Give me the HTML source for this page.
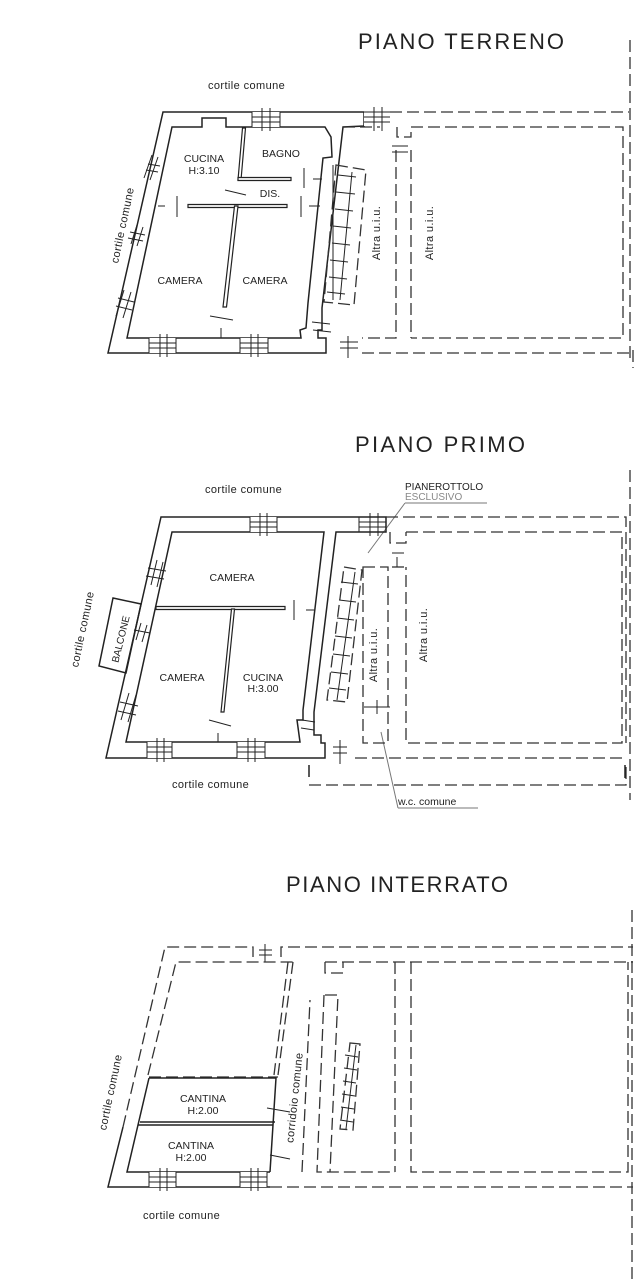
<!DOCTYPE html>
<html><head><meta charset="utf-8"><style>
html,body{margin:0;padding:0;background:#fff;}
svg{display:block;}
text{font-family:"Liberation Sans",sans-serif;fill:#222;}
.w{fill:none;stroke:#222;stroke-width:1.5;}
.t{fill:none;stroke:#222;stroke-width:1;}
.d{fill:none;stroke:#333;stroke-width:1.3;stroke-dasharray:12,5;}
.g{fill:none;stroke:#777;stroke-width:1;}
.iw{fill:#fff;stroke:#222;stroke-width:1.2;}
.lbl{font-size:11px;letter-spacing:0.4px;}
.rm{font-size:10.5px;}
.ttl{font-size:22px;fill:#222;}
</style></head><body>
<svg width="635" height="1280" viewBox="0 0 635 1280" xmlns="http://www.w3.org/2000/svg">
<rect width="635" height="1280" fill="#fff"/>

<!-- ============ PIANO TERRENO ============ -->
<text x="358" y="49" class="ttl" textLength="206">PIANO TERRENO</text>
<text x="208" y="89" class="lbl">cortile comune</text>
<text transform="translate(126,226) rotate(-78)" class="lbl" text-anchor="middle">cortile comune</text>

<path class="w" d="M163,112 L364,112 L364,126 L343,127 L322,308 L322,330 L318,330 L318,338 L326,338 L326,353 L108,353 Z"/>
<path class="w" d="M172,127 L202,127 L202,118 L226,118 L226,127 L325,127 L331,137 L332,157 L323,158 L308,303 L306,328 L300,330 L301,338 L127,338 Z"/>
<rect x="252" y="112" width="28" height="15" fill="#fff"/>
<path class="t" d="M252,112 V127 M280,112 V127 M252,117 H280 M252,122 H280 M262,108 V131 M270,108 V131"/>
<rect x="364" y="110" width="26" height="16" fill="#fff"/>
<path class="t" d="M364,112 H390 M364,117 H390 M364,122 H390 M374,107 V131 M382,107 V131"/>
<rect x="149" y="338" width="27" height="15" fill="#fff"/>
<path class="t" d="M149,338 V353 M176,338 V353 M149,343 H176 M149,348 H176 M160,334 V357 M167,334 V357"/>
<rect x="240" y="338" width="28" height="15" fill="#fff"/>
<path class="t" d="M240,338 V353 M268,338 V353 M240,343 H268 M240,348 H268 M251,334 V357 M258,334 V357"/>
<path class="t" d="M152,155 L144,178 M158,157 L150,180 M148,164 L160,166 M146,170 L158,172 M137,225 L131,244 M143,227 L137,246 M130,232 L145,235 M128,238 L143,241 M124,290 L116,316 M131,292 L123,318 M118,298 L134,302 M116,306 L132,310"/>
<path class="iw" d="M188,204.5 H287 V207.5 H188 Z"/>
<path class="iw" d="M234.5,206 L238,206 L226.5,307 L223,307 Z"/>
<path class="iw" d="M242.5,128 L245.5,128 L241,180 L238,180 Z"/>
<path class="iw" d="M238,177.5 H291 V180.5 H238 Z"/>
<path class="t" d="M313,179 H322 M309,206 H320 M158,206 H165 M304,168 V188 M301,196 V217 M177,196 V217 M225,190 L246,195 M210,316 L233,320 M221,328 V338"/>
<path class="t" d="M312,322 L330,324 M313,330 L331,332"/>
<text x="204" y="162" class="rm" text-anchor="middle">CUCINA</text>
<text x="204" y="174" class="rm" text-anchor="middle">H:3.10</text>
<text x="281" y="157" class="rm" text-anchor="middle">BAGNO</text>
<text x="270" y="197" class="rm" text-anchor="middle">DIS.</text>
<text x="180" y="284" class="rm" text-anchor="middle">CAMERA</text>
<text x="265" y="284" class="rm" text-anchor="middle">CAMERA</text>
<path class="d" d="M336,165 L366,170 L354,305 L324,302 Z" stroke-dasharray="8,4"/>
<path class="t" d="M352,172 L340,300 M338,175 L356,177 M336,192 L355,194 M335,209 L353,211 M333,226 L351,228 M332,243 L350,245 M330,260 L348,262 M329,277 L347,279 M327,292 L345,294 M333,165 V300"/>
<path class="d" d="M390,112 H629"/>
<path class="d" d="M411,127 H623 V338 H411"/>
<path class="d" d="M343,127 H380 M397,127 V137 H411 V127"/>
<path class="d" d="M396,150 V338 H362 M411,150 V338"/>
<path class="d" d="M362,353 H629"/>
<path class="t" d="M392,146 H408 M392,152 H408 M340,342 H358 M340,348 H358 M348,336 V358"/>
<path class="d" d="M630,40 V360 M633,350 V368" stroke-dasharray="10,8"/>
<text transform="translate(380,233) rotate(-90)" class="lbl" text-anchor="middle">Altra u.i.u.</text>
<text transform="translate(433,233) rotate(-90)" class="lbl" text-anchor="middle">Altra u.i.u.</text>

<!-- ============ PIANO PRIMO ============ -->
<text x="355" y="452" class="ttl" textLength="170">PIANO PRIMO</text>
<text x="205" y="493" class="lbl">cortile comune</text>
<text x="172" y="788" class="lbl">cortile comune</text>
<text transform="translate(86,630) rotate(-78)" class="lbl" text-anchor="middle">cortile comune</text>
<text x="405" y="490" style="font-size:10px">PIANEROTTOLO</text>
<text x="405" y="500" style="font-size:10px;fill:#888">ESCLUSIVO</text>
<path class="g" d="M405,503 H487 M405,503 L368,553"/>
<text x="398" y="805" style="font-size:10.5px">w.c. comune</text>
<path class="g" d="M398,808 H478 M398,808 L381,732"/>

<path class="w" d="M161,517 L386,517 L386,532 L336,532 L314,712 L314,735 L321,735 L321,743 L325,743 L325,758 L106,758 Z"/>
<path class="w" d="M172,532 L324,532 L303,710 L303,720 L297,720 L300,742 L126,742 Z"/>
<rect x="250" y="517" width="27" height="15" fill="#fff"/>
<path class="t" d="M250,517 V532 M277,517 V532 M250,522 H277 M250,527 H277 M260,513 V536 M267,513 V536"/>
<path class="t" d="M359,517 V532 M359,522 H386 M359,527 H386 M370,513 V536 M378,513 V536"/>
<rect x="147" y="742" width="25" height="16" fill="#fff"/>
<path class="t" d="M147,742 V758 M172,742 V758 M147,747 H172 M147,752 H172 M157,738 V762 M164,738 V762"/>
<rect x="237" y="742" width="28" height="16" fill="#fff"/>
<path class="t" d="M237,742 V758 M265,742 V758 M237,747 H265 M237,752 H265 M248,738 V762 M255,738 V762"/>
<path class="t" d="M157,560 L151,585 M163,562 L157,587 M148,568 L166,571 M146,576 L164,579 M141,623 L136,640 M147,625 L142,642 M134,630 L150,633 M129,693 L121,720 M136,695 L128,722 M120,702 L138,706 M118,711 L136,715"/>
<path class="w" d="M113,598 L141,604 L126,673 L99,666 Z"/>
<text transform="translate(124,640) rotate(-76)" style="font-size:10px" text-anchor="middle">BALCONE</text>
<path class="iw" d="M156,606.5 H285 V609.5 H156 Z"/>
<path class="iw" d="M231.5,609 L234.5,609 L224,712 L221,712 Z"/>
<path class="t" d="M306,610 H314 M294,600 V620 M209,720 L231,726 M218,733 V742 M302,720 L315,722 M301,728 L314,730 M333,747 H347 M333,753 H347 M340,740 V764"/>
<text x="232" y="581" class="rm" text-anchor="middle">CAMERA</text>
<text x="182" y="681" class="rm" text-anchor="middle">CAMERA</text>
<text x="263" y="681" class="rm" text-anchor="middle">CUCINA</text>
<text x="263" y="692" class="rm" text-anchor="middle">H:3.00</text>
<path class="d" d="M344,567 L362,570 L347,702 L327,700 Z" stroke-dasharray="8,4"/>
<path class="t" d="M355,572 L337,700 M341,582 L358,584 M339,600 L356,602 M337,618 L354,620 M335,636 L352,638 M333,654 L350,656 M331,672 L348,674 M329,688 L346,690"/>
<path class="d" d="M386,517 H626 V743"/>
<path class="d" d="M406,532 H622 V743 H406 V567 M390,532 V543 H406 V532"/>
<path class="d" d="M363,567 H388 V743 H363 Z"/>
<path class="d" d="M392,567 H404"/>
<path class="t" d="M392,553 H404 M397,557 V567 M364,707 H390 M377,700 V714"/>
<path class="d" d="M355,758 H626"/>
<path class="d" d="M309,785 H626 V765" stroke-dasharray="14,5"/>
<path class="w" d="M309,765 V777 M625,765 V778"/>
<path class="d" d="M630,470 V800" stroke-dasharray="10,8"/>
<text transform="translate(377,655) rotate(-90)" class="lbl" text-anchor="middle">Altra u.i.u.</text>
<text transform="translate(427,635) rotate(-90)" class="lbl" text-anchor="middle">Altra u.i.u.</text>

<!-- ============ PIANO INTERRATO ============ -->
<text x="286" y="892" class="ttl" textLength="222">PIANO INTERRATO</text>
<text x="143" y="1219" class="lbl">cortile comune</text>
<text transform="translate(114,1093) rotate(-78)" class="lbl" text-anchor="middle">cortile comune</text>
<text transform="translate(298,1098) rotate(-84)" class="lbl" text-anchor="middle">corridoio comune</text>

<path class="d" d="M123,1127 L165,947 H253 V957"/>
<path class="t" d="M259,950 H272 M259,955 H272 M265,944 V962"/>
<path class="d" d="M281,957 V947 H633"/>
<path class="d" d="M148,1075 L176,962 H293"/>
<path class="d" d="M293,962 L278,1075 M288,962 L274,1075 M302,1172 L310,1000"/>
<path class="d" d="M325,962 H633 M325,962 V973 H343 V962"/>
<path class="d" d="M325,995 H338 L330,1172 M324,995 L317,1172 H395 M395,962 V1172 M411,962 V1172 H628 V962"/>
<path class="d" d="M270,1187 H633"/>
<path class="d" d="M149,1077 H278" stroke-width="2" stroke-dasharray="10,6"/>
<path class="w" d="M149,1078 H276 L270,1172 M149,1078 L138,1125 H273 M140,1122 H275 M138,1125 L127,1172 H270 M123,1127 L108,1187 H270"/>
<rect x="149" y="1172" width="27" height="15" fill="#fff"/>
<path class="t" d="M149,1172 V1187 M176,1172 V1187 M149,1177 H176 M149,1182 H176 M160,1168 V1191 M167,1168 V1191"/>
<rect x="240" y="1172" width="27" height="15" fill="#fff"/>
<path class="t" d="M240,1172 V1187 M267,1172 V1187 M240,1177 H267 M240,1182 H267 M251,1168 V1191 M258,1168 V1191"/>
<path class="t" d="M267,1108 L290,1112 M270,1155 L290,1159"/>
<text x="203" y="1102" class="rm" text-anchor="middle">CANTINA</text>
<text x="203" y="1114" class="rm" text-anchor="middle">H:2.00</text>
<text x="191" y="1149" class="rm" text-anchor="middle">CANTINA</text>
<text x="191" y="1161" class="rm" text-anchor="middle">H:2.00</text>
<path class="d" d="M350,1043 L360,1044 L353,1130 L340,1129 Z" stroke-dasharray="6,3"/>
<path class="t" d="M356,1045 L346,1129 M345,1055 L358,1057 M344,1068 L357,1070 M343,1081 L356,1083 M342,1094 L355,1096 M341,1107 L354,1109 M340,1120 L353,1122"/>
<path class="d" d="M632,910 V1280" stroke-dasharray="12,10"/>
</svg>
</body></html>
